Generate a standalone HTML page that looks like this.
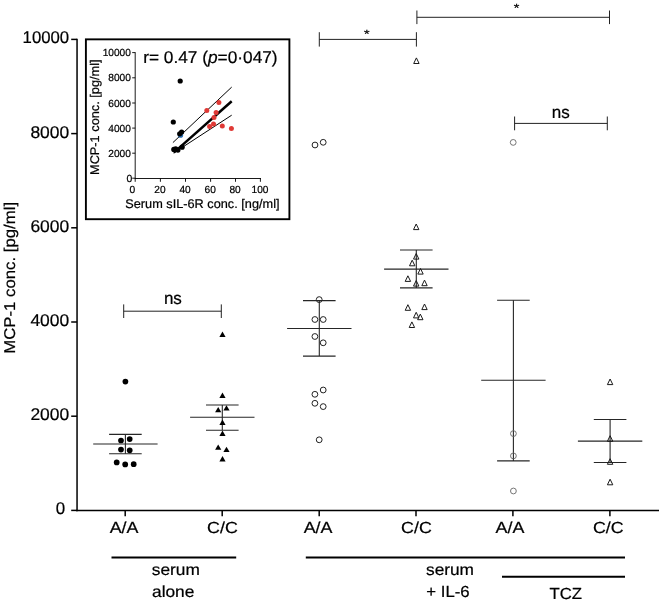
<!DOCTYPE html>
<html lang="en"><head><meta charset="utf-8"><title>MCP-1 conc.</title>
<style>
html,body{margin:0;padding:0;background:#fff;}
svg{display:block;will-change:transform;}
text{font-family:"Liberation Sans",Arial,Helvetica,sans-serif;fill:#000;stroke:#000;stroke-width:0.22px;text-rendering:geometricPrecision;}
</style></head><body>
<svg width="662" height="602" viewBox="0 0 662 602">
<rect x="0" y="0" width="662" height="602" fill="#fff"/>
<line x1="77.05" y1="38.7" x2="77.05" y2="511.25" stroke="#000" stroke-width="1.5" />
<line x1="76.35" y1="510.55" x2="659" y2="510.55" stroke="#000" stroke-width="1.5" />
<line x1="71.2" y1="39.4" x2="77.05" y2="39.4" stroke="#000" stroke-width="1.5" />
<text x="69.2" y="43.4" font-size="17" text-anchor="end" textLength="46.6" lengthAdjust="spacingAndGlyphs" >10000</text>
<line x1="71.2" y1="133.6" x2="77.05" y2="133.6" stroke="#000" stroke-width="1.5" />
<text x="69.2" y="137.6" font-size="17" text-anchor="end" textLength="38.8" lengthAdjust="spacingAndGlyphs" >8000</text>
<line x1="71.2" y1="227.8" x2="77.05" y2="227.8" stroke="#000" stroke-width="1.5" />
<text x="69.2" y="231.8" font-size="17" text-anchor="end" textLength="38.8" lengthAdjust="spacingAndGlyphs" >6000</text>
<line x1="71.2" y1="322.0" x2="77.05" y2="322.0" stroke="#000" stroke-width="1.5" />
<text x="69.2" y="326.0" font-size="17" text-anchor="end" textLength="38.8" lengthAdjust="spacingAndGlyphs" >4000</text>
<line x1="71.2" y1="416.2" x2="77.05" y2="416.2" stroke="#000" stroke-width="1.5" />
<text x="69.2" y="420.2" font-size="17" text-anchor="end" textLength="38.8" lengthAdjust="spacingAndGlyphs" >2000</text>
<line x1="71.2" y1="510.4" x2="77.05" y2="510.4" stroke="#000" stroke-width="1.5" />
<text x="65.1" y="514.4" font-size="17" text-anchor="end" textLength="9.4" lengthAdjust="spacingAndGlyphs" >0</text>
<line x1="125.2" y1="510.55" x2="125.2" y2="516.3" stroke="#000" stroke-width="1.5" />
<text x="124.1" y="533.2" font-size="16" text-anchor="middle" textLength="28.8" lengthAdjust="spacingAndGlyphs" >A/A</text>
<line x1="222.2" y1="510.55" x2="222.2" y2="516.3" stroke="#000" stroke-width="1.5" />
<text x="222.4" y="533.2" font-size="16" text-anchor="middle" textLength="30.8" lengthAdjust="spacingAndGlyphs" >C/C</text>
<line x1="319.2" y1="510.55" x2="319.2" y2="516.3" stroke="#000" stroke-width="1.5" />
<text x="318.1" y="533.2" font-size="16" text-anchor="middle" textLength="28.8" lengthAdjust="spacingAndGlyphs" >A/A</text>
<line x1="416.0" y1="510.55" x2="416.0" y2="516.3" stroke="#000" stroke-width="1.5" />
<text x="416.4" y="533.2" font-size="16" text-anchor="middle" textLength="30.8" lengthAdjust="spacingAndGlyphs" >C/C</text>
<line x1="512.9" y1="510.55" x2="512.9" y2="516.3" stroke="#000" stroke-width="1.5" />
<text x="509.9" y="533.2" font-size="16" text-anchor="middle" textLength="28.8" lengthAdjust="spacingAndGlyphs" >A/A</text>
<line x1="609.9" y1="510.55" x2="609.9" y2="516.3" stroke="#000" stroke-width="1.5" />
<text x="608.3" y="533.2" font-size="16" text-anchor="middle" textLength="30.8" lengthAdjust="spacingAndGlyphs" >C/C</text>
<text transform="translate(14.9,353.7) rotate(-90)" font-size="15.6" textLength="151.8" lengthAdjust="spacingAndGlyphs">MCP-1 conc. [pg/ml]</text>
<line x1="111.5" y1="557.6" x2="236.2" y2="557.6" stroke="#000" stroke-width="2" />
<line x1="305.8" y1="557.6" x2="625.0" y2="557.6" stroke="#000" stroke-width="2" />
<line x1="502.0" y1="576.8" x2="625.0" y2="576.8" stroke="#000" stroke-width="2" />
<text x="175.8" y="574.8" font-size="16" text-anchor="middle" textLength="48" lengthAdjust="spacingAndGlyphs" >serum</text>
<text x="173.2" y="597.0" font-size="16" text-anchor="middle" textLength="42.4" lengthAdjust="spacingAndGlyphs" >alone</text>
<text x="426" y="574.8" font-size="16" text-anchor="start" textLength="48" lengthAdjust="spacingAndGlyphs" >serum</text>
<text x="426.3" y="597.0" font-size="16" text-anchor="start" textLength="43.3" lengthAdjust="spacingAndGlyphs" >+ IL-6</text>
<text x="565.8" y="599.0" font-size="16" text-anchor="middle" textLength="32.6" lengthAdjust="spacingAndGlyphs" >TCZ</text>
<line x1="123.7" y1="311.2" x2="221.3" y2="311.2" stroke="#222" stroke-width="1" />
<line x1="123.7" y1="304.4" x2="123.7" y2="318.0" stroke="#222" stroke-width="1" />
<line x1="221.3" y1="304.4" x2="221.3" y2="318.0" stroke="#222" stroke-width="1" />
<text x="172.9" y="304.4" font-size="17.3" text-anchor="middle" textLength="18.0" lengthAdjust="spacingAndGlyphs" >ns</text>
<line x1="319.3" y1="39.4" x2="416.4" y2="39.4" stroke="#222" stroke-width="1" />
<line x1="319.3" y1="32.199999999999996" x2="319.3" y2="46.6" stroke="#222" stroke-width="1" />
<line x1="416.4" y1="32.199999999999996" x2="416.4" y2="46.6" stroke="#222" stroke-width="1" />
<text x="366.9" y="37.8" font-size="12" text-anchor="middle" textLength="5.6" lengthAdjust="spacingAndGlyphs" stroke-width="0.45">*</text>
<line x1="416.9" y1="17.3" x2="609.5" y2="17.3" stroke="#222" stroke-width="1" />
<line x1="416.9" y1="10.5" x2="416.9" y2="24.1" stroke="#222" stroke-width="1" />
<line x1="609.5" y1="10.5" x2="609.5" y2="24.1" stroke="#222" stroke-width="1" />
<text x="516.6" y="11.5" font-size="12" text-anchor="middle" textLength="5.6" lengthAdjust="spacingAndGlyphs" stroke-width="0.45">*</text>
<line x1="514.6" y1="123.4" x2="607.3" y2="123.4" stroke="#222" stroke-width="1" />
<line x1="514.6" y1="116.5" x2="514.6" y2="130.3" stroke="#222" stroke-width="1" />
<line x1="607.3" y1="116.5" x2="607.3" y2="130.3" stroke="#222" stroke-width="1" />
<text x="560.7" y="118.0" font-size="17.3" text-anchor="middle" textLength="18.0" lengthAdjust="spacingAndGlyphs" >ns</text>
<line x1="93.2" y1="444.0" x2="157.60000000000002" y2="444.0" stroke="#262626" stroke-width="1.1" />
<line x1="109.10000000000001" y1="434.4" x2="141.70000000000002" y2="434.4" stroke="#262626" stroke-width="1.1" />
<line x1="109.10000000000001" y1="453.8" x2="141.70000000000002" y2="453.8" stroke="#262626" stroke-width="1.1" />
<line x1="125.4" y1="434.4" x2="125.4" y2="453.8" stroke="#262626" stroke-width="1.1" />
<line x1="190.10000000000002" y1="417.3" x2="254.5" y2="417.3" stroke="#262626" stroke-width="1.1" />
<line x1="206.0" y1="405.0" x2="238.60000000000002" y2="405.0" stroke="#262626" stroke-width="1.1" />
<line x1="206.0" y1="430.3" x2="238.60000000000002" y2="430.3" stroke="#262626" stroke-width="1.1" />
<line x1="222.3" y1="405.0" x2="222.3" y2="430.3" stroke="#262626" stroke-width="1.1" />
<line x1="287.1" y1="328.5" x2="351.5" y2="328.5" stroke="#262626" stroke-width="1.1" />
<line x1="303.0" y1="300.6" x2="335.6" y2="300.6" stroke="#262626" stroke-width="1.1" />
<line x1="303.0" y1="356.1" x2="335.6" y2="356.1" stroke="#262626" stroke-width="1.1" />
<line x1="319.3" y1="300.6" x2="319.3" y2="356.1" stroke="#262626" stroke-width="1.1" />
<line x1="384.1" y1="269.1" x2="448.5" y2="269.1" stroke="#262626" stroke-width="1.1" />
<line x1="400.0" y1="250.0" x2="432.6" y2="250.0" stroke="#262626" stroke-width="1.1" />
<line x1="400.0" y1="287.9" x2="432.6" y2="287.9" stroke="#262626" stroke-width="1.1" />
<line x1="416.3" y1="250.0" x2="416.3" y2="287.9" stroke="#262626" stroke-width="1.1" />
<line x1="481.2" y1="380.3" x2="545.6" y2="380.3" stroke="#262626" stroke-width="1.1" />
<line x1="497.09999999999997" y1="300.2" x2="529.6999999999999" y2="300.2" stroke="#262626" stroke-width="1.1" />
<line x1="497.09999999999997" y1="460.9" x2="529.6999999999999" y2="460.9" stroke="#262626" stroke-width="1.1" />
<line x1="513.4" y1="300.2" x2="513.4" y2="460.9" stroke="#262626" stroke-width="1.1" />
<line x1="577.9" y1="441.1" x2="642.3000000000001" y2="441.1" stroke="#262626" stroke-width="1.1" />
<line x1="593.8000000000001" y1="419.5" x2="626.4" y2="419.5" stroke="#262626" stroke-width="1.1" />
<line x1="593.8000000000001" y1="462.5" x2="626.4" y2="462.5" stroke="#262626" stroke-width="1.1" />
<line x1="610.1" y1="419.5" x2="610.1" y2="462.5" stroke="#262626" stroke-width="1.1" />
<circle cx="125.4" cy="381.6" r="2.85" fill="#000"/>
<circle cx="121.0" cy="440.5" r="2.85" fill="#000"/>
<circle cx="129.7" cy="439.1" r="2.85" fill="#000"/>
<circle cx="121.0" cy="449.6" r="2.85" fill="#000"/>
<circle cx="129.7" cy="450.3" r="2.85" fill="#000"/>
<circle cx="116.7" cy="462.4" r="2.85" fill="#000"/>
<circle cx="125.2" cy="464.4" r="2.85" fill="#000"/>
<circle cx="133.7" cy="464.2" r="2.85" fill="#000"/>
<polygon points="219.4,336.9 225.6,336.9 222.5,331.5" fill="#000" stroke="none" stroke-width="1.0" stroke-linejoin="miter"/>
<polygon points="219.4,398.0 225.6,398.0 222.5,392.6" fill="#000" stroke="none" stroke-width="1.0" stroke-linejoin="miter"/>
<polygon points="215.1,412.3 221.3,412.3 218.2,406.9" fill="#000" stroke="none" stroke-width="1.0" stroke-linejoin="miter"/>
<polygon points="223.4,410.6 229.6,410.6 226.5,405.2" fill="#000" stroke="none" stroke-width="1.0" stroke-linejoin="miter"/>
<polygon points="219.4,424.9 225.6,424.9 222.5,419.5" fill="#000" stroke="none" stroke-width="1.0" stroke-linejoin="miter"/>
<polygon points="219.4,435.9 225.6,435.9 222.5,430.5" fill="#000" stroke="none" stroke-width="1.0" stroke-linejoin="miter"/>
<polygon points="215.1,449.8 221.3,449.8 218.2,444.4" fill="#000" stroke="none" stroke-width="1.0" stroke-linejoin="miter"/>
<polygon points="223.4,452.1 229.6,452.1 226.5,446.7" fill="#000" stroke="none" stroke-width="1.0" stroke-linejoin="miter"/>
<polygon points="219.4,461.4 225.6,461.4 222.5,456.0" fill="#000" stroke="none" stroke-width="1.0" stroke-linejoin="miter"/>
<circle cx="315.0" cy="145.0" r="2.9" fill="none" stroke="#222" stroke-width="1.0"/>
<circle cx="323.2" cy="142.3" r="2.9" fill="none" stroke="#222" stroke-width="1.0"/>
<circle cx="319.2" cy="299.6" r="2.9" fill="none" stroke="#222" stroke-width="1.0"/>
<circle cx="314.9" cy="319.5" r="2.9" fill="none" stroke="#222" stroke-width="1.0"/>
<circle cx="323.2" cy="319.5" r="2.9" fill="none" stroke="#222" stroke-width="1.0"/>
<circle cx="314.9" cy="336.5" r="2.9" fill="none" stroke="#222" stroke-width="1.0"/>
<circle cx="323.2" cy="342.8" r="2.9" fill="none" stroke="#222" stroke-width="1.0"/>
<circle cx="323.2" cy="390" r="2.9" fill="none" stroke="#222" stroke-width="1.0"/>
<circle cx="314.9" cy="394.3" r="2.9" fill="none" stroke="#222" stroke-width="1.0"/>
<circle cx="314.9" cy="403.3" r="2.9" fill="none" stroke="#222" stroke-width="1.0"/>
<circle cx="323.2" cy="406.6" r="2.9" fill="none" stroke="#222" stroke-width="1.0"/>
<circle cx="319.2" cy="439.8" r="2.9" fill="none" stroke="#222" stroke-width="1.0"/>
<polygon points="413.7,63.5 419.1,63.5 416.4,57.9" fill="none" stroke="#1a1a1a" stroke-width="1.0" stroke-linejoin="miter"/>
<polygon points="413.5,229.6 418.9,229.6 416.2,224.0" fill="none" stroke="#1a1a1a" stroke-width="1.0" stroke-linejoin="miter"/>
<polygon points="413.5,259.1 418.9,259.1 416.2,253.5" fill="none" stroke="#1a1a1a" stroke-width="1.0" stroke-linejoin="miter"/>
<polygon points="409.5,265.8 414.9,265.8 412.2,260.2" fill="none" stroke="#1a1a1a" stroke-width="1.0" stroke-linejoin="miter"/>
<polygon points="417.8,274.1 423.2,274.1 420.5,268.5" fill="none" stroke="#1a1a1a" stroke-width="1.0" stroke-linejoin="miter"/>
<polygon points="405.2,281.4 410.6,281.4 407.9,275.8" fill="none" stroke="#1a1a1a" stroke-width="1.0" stroke-linejoin="miter"/>
<polygon points="413.5,286.1 418.9,286.1 416.2,280.5" fill="none" stroke="#1a1a1a" stroke-width="1.0" stroke-linejoin="miter"/>
<polygon points="421.8,285.7 427.2,285.7 424.5,280.1" fill="none" stroke="#1a1a1a" stroke-width="1.0" stroke-linejoin="miter"/>
<polygon points="405.2,310.3 410.6,310.3 407.9,304.7" fill="none" stroke="#1a1a1a" stroke-width="1.0" stroke-linejoin="miter"/>
<polygon points="421.8,309.6 427.2,309.6 424.5,304.0" fill="none" stroke="#1a1a1a" stroke-width="1.0" stroke-linejoin="miter"/>
<polygon points="413.5,317.9 418.9,317.9 416.2,312.3" fill="none" stroke="#1a1a1a" stroke-width="1.0" stroke-linejoin="miter"/>
<polygon points="417.6,319.7 423.0,319.7 420.3,314.1" fill="none" stroke="#1a1a1a" stroke-width="1.0" stroke-linejoin="miter"/>
<polygon points="409.2,327.5 414.6,327.5 411.9,321.9" fill="none" stroke="#1a1a1a" stroke-width="1.0" stroke-linejoin="miter"/>
<circle cx="513.2" cy="142.4" r="2.9" fill="none" stroke="#666" stroke-width="0.9"/>
<circle cx="513.4000000000001" cy="433.6" r="2.9" fill="none" stroke="#666" stroke-width="0.9"/>
<circle cx="513.4000000000001" cy="455.9" r="2.9" fill="none" stroke="#666" stroke-width="0.9"/>
<circle cx="513.4000000000001" cy="491" r="2.9" fill="none" stroke="#666" stroke-width="0.9"/>
<polygon points="607.4,384.6 612.8,384.6 610.1,379.0" fill="none" stroke="#1a1a1a" stroke-width="1.0" stroke-linejoin="miter"/>
<polygon points="607.4,441.3 612.8,441.3 610.1,435.7" fill="none" stroke="#1a1a1a" stroke-width="1.0" stroke-linejoin="miter"/>
<polygon points="607.4,464.3 612.8,464.3 610.1,458.7" fill="none" stroke="#1a1a1a" stroke-width="1.0" stroke-linejoin="miter"/>
<polygon points="607.4,484.8 612.8,484.8 610.1,479.2" fill="none" stroke="#1a1a1a" stroke-width="1.0" stroke-linejoin="miter"/>
<rect x="85.9" y="39.35" width="203.5" height="179.85" fill="#fff" stroke="#000" stroke-width="1.9"/>
<line x1="135.2" y1="52.2" x2="135.2" y2="178.9" stroke="#000" stroke-width="0.9" />
<line x1="134.79999999999998" y1="178.5" x2="261" y2="178.5" stroke="#000" stroke-width="0.9" />
<line x1="132.2" y1="52.6" x2="135.2" y2="52.6" stroke="#000" stroke-width="0.9" />
<text x="130.9" y="56.2" font-size="10.3" text-anchor="end" textLength="28.2" lengthAdjust="spacingAndGlyphs" stroke="#000" stroke-width="0.2">10000</text>
<line x1="132.2" y1="77.8" x2="135.2" y2="77.8" stroke="#000" stroke-width="0.9" />
<text x="130.9" y="81.39999999999999" font-size="10.3" text-anchor="end" textLength="22.6" lengthAdjust="spacingAndGlyphs" stroke="#000" stroke-width="0.2">8000</text>
<line x1="132.2" y1="103.0" x2="135.2" y2="103.0" stroke="#000" stroke-width="0.9" />
<text x="130.9" y="106.6" font-size="10.3" text-anchor="end" textLength="22.6" lengthAdjust="spacingAndGlyphs" stroke="#000" stroke-width="0.2">6000</text>
<line x1="132.2" y1="128.1" x2="135.2" y2="128.1" stroke="#000" stroke-width="0.9" />
<text x="130.9" y="131.7" font-size="10.3" text-anchor="end" textLength="22.6" lengthAdjust="spacingAndGlyphs" stroke="#000" stroke-width="0.2">4000</text>
<line x1="132.2" y1="153.2" x2="135.2" y2="153.2" stroke="#000" stroke-width="0.9" />
<text x="130.9" y="156.79999999999998" font-size="10.3" text-anchor="end" textLength="22.6" lengthAdjust="spacingAndGlyphs" stroke="#000" stroke-width="0.2">2000</text>
<line x1="132.2" y1="178.2" x2="135.2" y2="178.2" stroke="#000" stroke-width="0.9" />
<text x="132.4" y="181.79999999999998" font-size="10.3" text-anchor="end" textLength="5.8" lengthAdjust="spacingAndGlyphs" stroke="#000" stroke-width="0.2">0</text>
<line x1="135.2" y1="178.5" x2="135.2" y2="181.8" stroke="#000" stroke-width="0.9" />
<text x="132.4" y="192.6" font-size="10.4" text-anchor="middle" textLength="5.7" lengthAdjust="spacingAndGlyphs" stroke="#000" stroke-width="0.2">0</text>
<line x1="160.4" y1="178.5" x2="160.4" y2="181.8" stroke="#000" stroke-width="0.9" />
<text x="160.0" y="192.6" font-size="10.4" text-anchor="middle" textLength="11.3" lengthAdjust="spacingAndGlyphs" stroke="#000" stroke-width="0.2">20</text>
<line x1="185.5" y1="178.5" x2="185.5" y2="181.8" stroke="#000" stroke-width="0.9" />
<text x="185.1" y="192.6" font-size="10.4" text-anchor="middle" textLength="11.3" lengthAdjust="spacingAndGlyphs" stroke="#000" stroke-width="0.2">40</text>
<line x1="210.6" y1="178.5" x2="210.6" y2="181.8" stroke="#000" stroke-width="0.9" />
<text x="210.2" y="192.6" font-size="10.4" text-anchor="middle" textLength="11.3" lengthAdjust="spacingAndGlyphs" stroke="#000" stroke-width="0.2">60</text>
<line x1="235.5" y1="178.5" x2="235.5" y2="181.8" stroke="#000" stroke-width="0.9" />
<text x="235.1" y="192.6" font-size="10.4" text-anchor="middle" textLength="11.3" lengthAdjust="spacingAndGlyphs" stroke="#000" stroke-width="0.2">80</text>
<line x1="260.4" y1="178.5" x2="260.4" y2="181.8" stroke="#000" stroke-width="0.9" />
<text x="260.0" y="192.6" font-size="10.4" text-anchor="middle" textLength="16.9" lengthAdjust="spacingAndGlyphs" stroke="#000" stroke-width="0.2">100</text>
<text x="125.3" y="207.8" font-size="12.6" text-anchor="start" textLength="154.2" lengthAdjust="spacingAndGlyphs" >Serum sIL-6R conc. [ng/ml]</text>
<text transform="translate(99.2,175.0) rotate(-90)" font-size="12.6" textLength="115.6" lengthAdjust="spacingAndGlyphs">MCP-1 conc. [pg/ml]</text>
<text x="143.2" y="63.0" font-size="17" textLength="134.4" lengthAdjust="spacingAndGlyphs">r= 0.47 (<tspan font-style="italic">p</tspan>=0·047)</text>
<line x1="172.9" y1="142.6" x2="231.7" y2="87.1" stroke="#000" stroke-width="1.0" />
<line x1="173.6" y1="153" x2="231.7" y2="115.2" stroke="#000" stroke-width="1.0" />
<line x1="173.8" y1="152.6" x2="231.7" y2="101.2" stroke="#000" stroke-width="2.5" stroke-linecap="butt"/>
<circle cx="180.5" cy="135.2" r="2.6" fill="#2a6db0"/>
<circle cx="180.2" cy="81" r="2.6" fill="#000"/>
<circle cx="173.3" cy="122" r="2.6" fill="#000"/>
<circle cx="181.6" cy="132" r="2.6" fill="#000"/>
<circle cx="179.7" cy="133.8" r="2.6" fill="#000"/>
<circle cx="173.8" cy="149.4" r="2.6" fill="#000"/>
<circle cx="175.7" cy="148.9" r="2.6" fill="#000"/>
<circle cx="177.9" cy="150.1" r="2.6" fill="#000"/>
<circle cx="182.1" cy="147.2" r="2.6" fill="#000"/>
<circle cx="218.9" cy="102.6" r="2.5" fill="#e03a36"/>
<circle cx="206.8" cy="110.5" r="2.5" fill="#e03a36"/>
<circle cx="216.1" cy="112.4" r="2.5" fill="#e03a36"/>
<circle cx="214" cy="117.6" r="2.5" fill="#e03a36"/>
<circle cx="213.5" cy="123.9" r="2.5" fill="#e03a36"/>
<circle cx="209.6" cy="126.5" r="2.5" fill="#e03a36"/>
<circle cx="222.3" cy="126.1" r="2.5" fill="#e03a36"/>
<circle cx="231.4" cy="128.5" r="2.5" fill="#e03a36"/>
</svg>
</body></html>
